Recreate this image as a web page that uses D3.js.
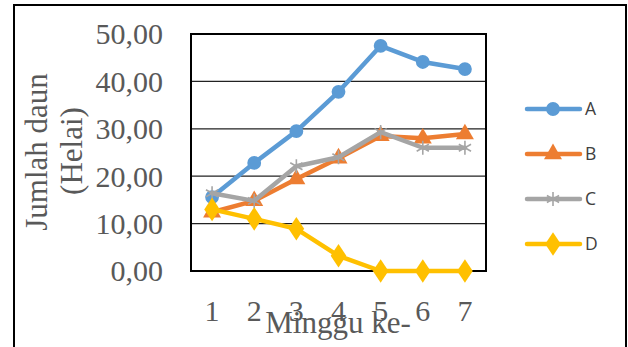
<!DOCTYPE html>
<html>
<head>
<meta charset="utf-8">
<script src="https://cdn.jsdelivr.net/npm/d3@7"></script>
<style>
  html, body { margin: 0; padding: 0; background: #fff; }
  svg { display: block; }
</style>
</head>
<body>
<svg id="chart" width="628" height="347"></svg>
<script>
// Weekly leaf count per treatment
const weeks = [1, 2, 3, 4, 5, 6, 7];
const seriesNames = ["A", "B", "C", "D"];
const valuesA = [15.6, 22.8, 29.5, 37.8, 47.5, 44.1, 42.6];
const valuesB = [12.4, 14.8, 19.4, 23.8, 28.5, 28.0, 28.9];
const valuesC = [16.4, 14.8, 22.1, 24.0, 29.3, 26.0, 26.0];
const valuesD = [13.0, 11.0, 8.9, 3.2, 0, 0, 0];
const yTicks = [0, 10, 20, 30, 40, 50];
const colors = ["#5B9BD5", "#ED7D31", "#A5A5A5", "#FFC000"];
const markers = ["circle", "triangle", "star", "diamond"];

const series = [valuesA, valuesB, valuesC, valuesD].map((v, i) => ({
  name: seriesNames[i], values: v, color: colors[i], marker: markers[i]
}));

const serif = "'Liberation Serif', 'Times New Roman', serif";
const svg = d3.select("#chart");
const plot = { left: 191, top: 34, right: 486, bottom: 271 };

// Outer chart frame
svg.append("rect")
  .attr("x", 14).attr("y", 5).attr("width", 612).attr("height", 360)
  .attr("fill", "none").attr("stroke", "#000").attr("stroke-width", 2);

const x = d3.scaleBand().domain(weeks).range([plot.left, plot.right]);
const y = d3.scaleLinear().domain([0, 50]).range([plot.bottom, plot.top]);
const cx = d => x(d) + x.bandwidth() / 2;

// Horizontal gridlines
svg.append("g").selectAll("line").data(yTicks).join("line")
  .attr("x1", plot.left).attr("x2", plot.right)
  .attr("y1", d => y(d)).attr("y2", d => y(d))
  .attr("stroke", "#222").attr("stroke-width", 1.2);

// Plot border
svg.append("rect")
  .attr("x", plot.left).attr("y", plot.top)
  .attr("width", plot.right - plot.left).attr("height", plot.bottom - plot.top)
  .attr("fill", "none").attr("stroke", "#000").attr("stroke-width", 2);

// Y axis labels
const fmt = d => d3.format(".2f")(d).replace(".", ",");
const yAxis = d3.axisLeft(y).tickValues(yTicks).tickFormat(fmt).tickSize(0).tickPadding(28);
const gy = svg.append("g").attr("transform", `translate(${plot.left},0)`).call(yAxis);
gy.select(".domain").remove();
gy.selectAll("text")
  .attr("font-family", serif)
  .attr("font-size", 30).attr("fill", "#595959").attr("dy", "0.33em");

// X axis labels
const xAxis = d3.axisBottom(x).tickSize(0).tickPadding(29);
const gx = svg.append("g").attr("transform", `translate(0,${plot.bottom})`).call(xAxis);
gx.select(".domain").remove();
gx.selectAll("text")
  .attr("font-family", serif)
  .attr("font-size", 30).attr("fill", "#595959");

// Axis titles
svg.append("text")
  .attr("transform", "translate(47,152) rotate(-90)")
  .attr("text-anchor", "middle")
  .attr("font-family", serif)
  .attr("font-size", 31).attr("fill", "#595959")
  .text("Jumlah daun");
svg.append("text")
  .attr("transform", "translate(82,151) rotate(-90)")
  .attr("text-anchor", "middle")
  .attr("font-family", serif)
  .attr("font-size", 31).attr("fill", "#595959")
  .text("(Helai)");
svg.append("text")
  .attr("x", 338).attr("y", 333)
  .attr("text-anchor", "middle")
  .attr("font-family", serif)
  .attr("font-size", 31).attr("fill", "#595959")
  .text("Minggu ke-");

// Marker shapes
const symbols = {
  circle: d3.symbolCircle,
  triangle: d3.symbolTriangle,
  star: d3.symbolAsterisk,
  diamond: d3.symbolDiamond
};
function drawMarker(g, s, px, py) {
  if (s.marker === "star") {
    g.append("path").attr("d", d3.symbol().type(symbols.star).size(140)())
      .attr("transform", `translate(${px},${py})`)
      .attr("fill", "none").attr("stroke", s.color).attr("stroke-width", 1.6);
  } else if (s.marker === "diamond") {
    g.append("path").attr("d", d3.symbol().type(symbols.diamond).size(160)())
      .attr("transform", `translate(${px},${py}) scale(1.15,1)`)
      .attr("fill", s.color);
  } else if (s.marker === "triangle") {
    g.append("path").attr("d", d3.symbol().type(symbols.triangle).size(140)())
      .attr("transform", `translate(${px},${py})`)
      .attr("fill", s.color);
  } else {
    g.append("path").attr("d", d3.symbol().type(symbols.circle).size(150)())
      .attr("transform", `translate(${px},${py})`)
      .attr("fill", s.color);
  }
}

// Series lines and markers
const line = d3.line().x((d, i) => cx(weeks[i])).y(d => y(d));
series.forEach(s => {
  const g = svg.append("g");
  g.append("path").datum(s.values)
    .attr("d", line)
    .attr("fill", "none").attr("stroke", s.color)
    .attr("stroke-width", 4.5).attr("stroke-linejoin", "round").attr("stroke-linecap", "round");
  s.values.forEach((v, i) => drawMarker(g, s, cx(weeks[i]), y(v)));
});

// Legend
const legendY = d3.scalePoint().domain(seriesNames).range([109, 244]);
series.forEach(s => {
  const g = svg.append("g");
  const ly = legendY(s.name);
  g.append("line").attr("x1", 527).attr("x2", 580).attr("y1", ly).attr("y2", ly)
    .attr("stroke", s.color).attr("stroke-width", 4.5).attr("stroke-linecap", "round");
  drawMarker(g, s, 553, ly);
  g.append("text").attr("x", 585).attr("y", ly).attr("dy", "0.36em")
    .attr("font-family", "'Open Sans', 'Liberation Sans', sans-serif")
    .attr("font-size", 17.5).attr("fill", "#404040").text(s.name);
});
</script>
</body>
</html>
